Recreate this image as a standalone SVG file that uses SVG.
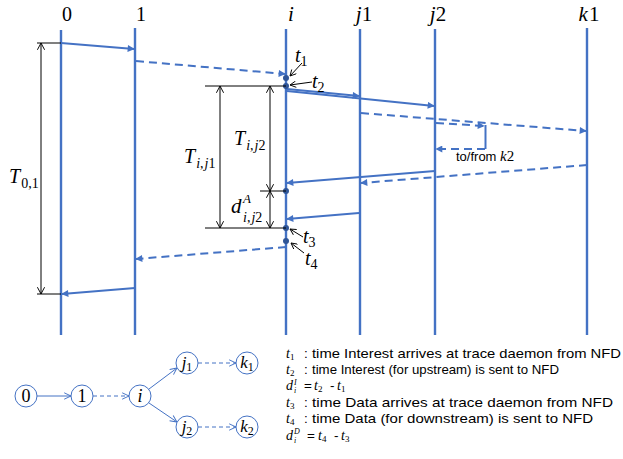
<svg xmlns="http://www.w3.org/2000/svg" width="623" height="459" viewBox="0 0 623 459">
<style>
.life{stroke:#4472C4;stroke-width:2.4;fill:none}
.msg{stroke:#4472C4;stroke-width:2;fill:none;marker-end:url(#ah)}
.dash{stroke-dasharray:8,5}
.dim{stroke:#000;stroke-width:1;fill:none}
.dimA{stroke:#000;stroke-width:1;fill:none;marker-start:url(#oa);marker-end:url(#oa)}
.ptr{stroke:#000;stroke-width:1;fill:none;marker-end:url(#oa2)}
.dot{fill:#2F5597}
.m{font-family:"Liberation Serif","DejaVu Serif",serif;font-style:italic;fill:#000}
.n{font-family:"Liberation Serif","DejaVu Serif",serif;font-style:normal;fill:#000}
.s{font-family:"Liberation Sans",Arial,sans-serif;fill:#000}
.node{fill:#fff;stroke:#4472C4;stroke-width:1}
.edge{stroke:#4472C4;stroke-width:1;fill:none;marker-end:url(#va)}
.edash{stroke-dasharray:4,3}
</style>
<defs>
<marker id="ah" viewBox="0 0 10 10" refX="9" refY="5" markerWidth="8" markerHeight="7" markerUnits="userSpaceOnUse" orient="auto"><path d="M0,0 L10,5 L0,10 z" fill="#4472C4"/></marker>
<marker id="oa" viewBox="0 0 10 10" refX="9.5" refY="5" markerWidth="8" markerHeight="8" markerUnits="userSpaceOnUse" orient="auto-start-reverse"><path d="M1,0.5 L9.5,5 L1,9.5" fill="none" stroke="#000" stroke-width="1.2"/></marker>
<marker id="oa2" viewBox="0 0 10 10" refX="9.5" refY="5" markerWidth="7" markerHeight="7" markerUnits="userSpaceOnUse" orient="auto"><path d="M1,0.5 L9.5,5 L1,9.5" fill="none" stroke="#000" stroke-width="1.3"/></marker>
<marker id="va" viewBox="0 0 10 10" refX="9.5" refY="5" markerWidth="8" markerHeight="8" markerUnits="userSpaceOnUse" orient="auto"><path d="M1,1 L9.5,5 L1,9" fill="none" stroke="#4472C4" stroke-width="1.2"/></marker>
</defs>

<g id="lifelines">
<g id="ll-0"><text class="n" x="67" y="21" font-size="20" text-anchor="middle">0</text><line class="life" x1="61" y1="30" x2="61" y2="335"/></g>
<g id="ll-1"><text class="n" x="141" y="21" font-size="20" text-anchor="middle">1</text><line class="life" x1="135" y1="28" x2="135" y2="335"/></g>
<g id="ll-i"><text class="m" x="291" y="21" font-size="21" text-anchor="middle">i</text><line class="life" x1="286" y1="29" x2="286" y2="335"/></g>
<g id="ll-j1"><text x="364" y="21" font-size="21" text-anchor="middle"><tspan class="m">j</tspan><tspan class="n">1</tspan></text><line class="life" x1="360" y1="29" x2="360" y2="335"/></g>
<g id="ll-j2"><text x="438" y="21" font-size="21" text-anchor="middle"><tspan class="m">j</tspan><tspan class="n">2</tspan></text><line class="life" x1="435" y1="29" x2="435" y2="335"/></g>
<g id="ll-k1"><text x="589" y="21" font-size="21" text-anchor="middle"><tspan class="m">k</tspan><tspan class="n" dx="1">1</tspan></text><line class="life" x1="587" y1="28" x2="587" y2="335"/></g>
</g>

<g id="connectors">
<line class="msg" x1="61" y1="43" x2="134" y2="49"/>
<line class="msg dash" x1="136" y1="61" x2="285" y2="74"/>
<line class="msg" x1="287" y1="89" x2="359" y2="96"/>
<line class="msg" x1="287" y1="91" x2="434" y2="106"/>
<line class="msg dash" x1="361" y1="113" x2="586" y2="131"/>
<line class="msg dash" x1="436" y1="123" x2="484" y2="126"/>
<line stroke="#4472C4" stroke-width="2" x1="485.5" y1="125" x2="485.5" y2="149"/>
<line class="msg dash" x1="485" y1="149" x2="436" y2="149"/>
<line class="msg dash" x1="587" y1="165" x2="361" y2="183"/>
<line class="msg" x1="435" y1="171" x2="287" y2="183"/>
<line class="msg" x1="359" y1="213" x2="287" y2="219"/>
<line class="msg dash" x1="286" y1="247" x2="136" y2="259"/>
<line class="msg" x1="135" y1="288" x2="62" y2="294"/>
</g>

<g id="k2-label"><text x="456" y="161" font-size="13"><tspan class="s">to/from </tspan><tspan class="m" font-size="15">k</tspan><tspan class="n" font-size="15">2</tspan></text></g>

<g id="events">
<circle class="dot" cx="286" cy="78" r="3"/>
<circle class="dot" cx="286" cy="86" r="3"/>
<circle class="dot" cx="286" cy="191" r="3"/>
<circle class="dot" cx="286" cy="228" r="3"/>
<circle class="dot" cx="286" cy="241" r="3"/>
<line class="ptr" x1="302" y1="63" x2="290" y2="76"/>
<line class="ptr" x1="312" y1="82" x2="290" y2="85"/>
<line class="ptr" x1="303" y1="237" x2="290" y2="229"/>
<line class="ptr" x1="304" y1="253" x2="291" y2="243"/>
<text x="295" y="62" font-size="20"><tspan class="m">t</tspan><tspan class="n" font-size="14" dy="4">1</tspan></text>
<text x="312" y="88" font-size="20"><tspan class="m">t</tspan><tspan class="n" font-size="14" dy="4">2</tspan></text>
<text x="303" y="243" font-size="20"><tspan class="m">t</tspan><tspan class="n" font-size="14" dy="4">3</tspan></text>
<text x="305" y="265" font-size="20"><tspan class="m">t</tspan><tspan class="n" font-size="14" dy="4">4</tspan></text>
</g>

<g id="dimensions">
<line class="dim" x1="37" y1="43" x2="61" y2="43"/>
<line class="dim" x1="37" y1="294" x2="61" y2="294"/>
<line class="dimA" x1="41" y1="43" x2="41" y2="294"/>
<text x="9" y="183" font-size="20"><tspan class="m">T</tspan><tspan class="n" font-size="14" dy="5" dx="1">0,1</tspan></text>
<line class="dim" x1="205" y1="86" x2="286" y2="86"/>
<line class="dim" x1="205" y1="228" x2="286" y2="228"/>
<line class="dim" x1="260" y1="191" x2="286" y2="191"/>
<line class="dimA" x1="220" y1="86" x2="220" y2="228"/>
<line class="dimA" x1="270" y1="86" x2="270" y2="191"/>
<line class="dimA" x1="270" y1="191" x2="270" y2="228"/>
<text x="184" y="163" font-size="20"><tspan class="m">T</tspan><tspan class="m" font-size="14" dy="5" dx="1">i</tspan><tspan class="n" font-size="14">,</tspan><tspan class="m" font-size="14" dx="1">j</tspan><tspan class="n" font-size="14">1</tspan></text>
<text x="234" y="145" font-size="20"><tspan class="m">T</tspan><tspan class="m" font-size="14" dy="5" dx="1">i</tspan><tspan class="n" font-size="14">,</tspan><tspan class="m" font-size="14" dx="1">j</tspan><tspan class="n" font-size="14">2</tspan></text>
<text x="231" y="213" font-size="21" class="m">d</text>
<text x="243" y="203" font-size="13" class="m">A</text>
<text x="243" y="222" font-size="14"><tspan class="m">i</tspan><tspan class="n">,</tspan><tspan class="m" dx="1">j</tspan><tspan class="n">2</tspan></text>
</g>

<g id="graph">
<g id="edges">
<line class="edge" x1="37" y1="396" x2="71" y2="396"/>
<line class="edge edash" x1="93" y1="396" x2="129" y2="396"/>
<line class="edge" x1="149" y1="389" x2="177" y2="368"/>
<line class="edge" x1="149" y1="403" x2="177" y2="422"/>
<line class="edge edash" x1="198" y1="363" x2="236" y2="363"/>
<line class="edge edash" x1="198" y1="427" x2="236" y2="427"/>
</g>
<g id="n0"><circle class="node" cx="26" cy="396" r="11"/><text class="n" x="26" y="402" font-size="18" text-anchor="middle">0</text></g>
<g id="n1"><circle class="node" cx="82" cy="396" r="11"/><text class="n" x="82" y="402" font-size="18" text-anchor="middle">1</text></g>
<g id="ni"><circle class="node" cx="140" cy="396" r="11"/><text class="m" x="140" y="402" font-size="18" text-anchor="middle">i</text></g>
<g id="nj1"><circle class="node" cx="187" cy="363" r="11"/><text x="187" y="368" font-size="17" text-anchor="middle"><tspan class="m">j</tspan><tspan class="n" font-size="12" dy="3">1</tspan></text></g>
<g id="nk1"><circle class="node" cx="247" cy="363" r="11"/><text x="247" y="368" font-size="17" text-anchor="middle"><tspan class="m">k</tspan><tspan class="n" font-size="12" dy="3">1</tspan></text></g>
<g id="nj2"><circle class="node" cx="187" cy="427" r="11"/><text x="187" y="432" font-size="17" text-anchor="middle"><tspan class="m">j</tspan><tspan class="n" font-size="12" dy="3">2</tspan></text></g>
<g id="nk2"><circle class="node" cx="247" cy="427" r="11"/><text x="247" y="432" font-size="17" text-anchor="middle"><tspan class="m">k</tspan><tspan class="n" font-size="12" dy="3">2</tspan></text></g>
</g>

<g id="legend">
<text x="286" y="358" font-size="14"><tspan class="m">t</tspan><tspan class="n" font-size="9" dy="2">1</tspan></text>
<text class="s" x="304" y="358" font-size="13.5">:</text>
<text class="s" x="312" y="358" font-size="13.5" textLength="309" lengthAdjust="spacingAndGlyphs">time Interest arrives at trace daemon from NFD</text>
<text x="286" y="374" font-size="14"><tspan class="m">t</tspan><tspan class="n" font-size="9" dy="2">2</tspan></text>
<text class="s" x="304" y="374" font-size="13.5">:</text>
<text class="s" x="312" y="374" font-size="13.5" textLength="247" lengthAdjust="spacingAndGlyphs">time Interest (for upstream) is sent to NFD</text>
<text x="286" y="390" font-size="14"><tspan class="m">d</tspan></text>
<text class="m" x="294" y="385" font-size="8">I</text>
<text class="m" x="294" y="393" font-size="8">i</text>
<text class="s" x="304" y="390" font-size="13.5">=</text>
<text x="314" y="390" font-size="14"><tspan class="m">t</tspan><tspan class="n" font-size="9" dy="2">2</tspan></text>
<text class="s" x="330" y="390" font-size="13.5">-</text>
<text x="337" y="390" font-size="14"><tspan class="m">t</tspan><tspan class="n" font-size="9" dy="2">1</tspan></text>
<text x="286" y="407" font-size="14"><tspan class="m">t</tspan><tspan class="n" font-size="9" dy="2">3</tspan></text>
<text class="s" x="304" y="407" font-size="13.5">:</text>
<text class="s" x="312" y="407" font-size="13.5" textLength="301" lengthAdjust="spacingAndGlyphs">time Data arrives at trace daemon from NFD</text>
<text x="286" y="423" font-size="14"><tspan class="m">t</tspan><tspan class="n" font-size="9" dy="2">4</tspan></text>
<text class="s" x="304" y="423" font-size="13.5">:</text>
<text class="s" x="312" y="423" font-size="13.5" textLength="281" lengthAdjust="spacingAndGlyphs">time Data (for downstream) is sent to NFD</text>
<text x="286" y="440" font-size="14"><tspan class="m">d</tspan></text>
<text class="m" x="294" y="434" font-size="8">D</text>
<text class="m" x="294" y="443" font-size="8">i</text>
<text class="s" x="307" y="440" font-size="13.5">=</text>
<text x="318" y="440" font-size="14"><tspan class="m">t</tspan><tspan class="n" font-size="9" dy="2">4</tspan></text>
<text class="s" x="334" y="440" font-size="13.5">-</text>
<text x="341" y="440" font-size="14"><tspan class="m">t</tspan><tspan class="n" font-size="9" dy="2">3</tspan></text>
</g>
</svg>
